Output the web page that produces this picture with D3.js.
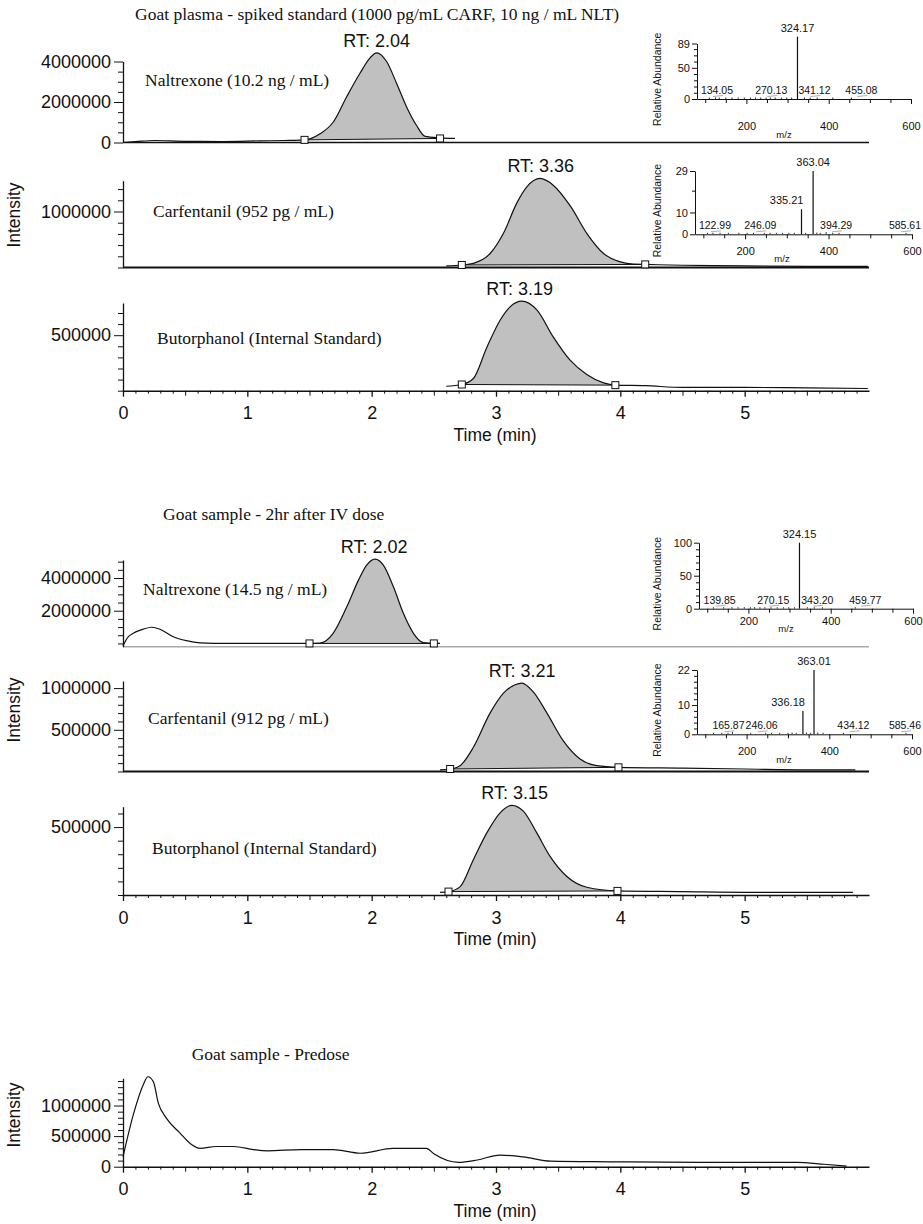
<!DOCTYPE html>
<html><head><meta charset="utf-8">
<script src="https://cdn.jsdelivr.net/npm/d3@7"></script>
<style>
body{margin:0;background:#fff;}
svg{display:block;background:#fff;}
</style></head><body>
<svg id="c" width="923" height="1224"></svg>
<script>
// ================= DATA =================
const groupTitles = [
  "Goat plasma - spiked standard (1000 pg/mL CARF, 10 ng / mL NLT)",
  "Goat sample - 2hr after IV dose",
  "Goat sample - Predose"
];
const compoundNames = [
  "Naltrexone (10.2 ng / mL)", "Carfentanil (952 pg / mL)", "Butorphanol (Internal Standard)",
  "Naltrexone (14.5 ng / mL)", "Carfentanil (912 pg / mL)", "Butorphanol (Internal Standard)"
];
const timeTicks = [0, 1, 2, 3, 4, 5];
const xAxisTitle = "Time (min)";
const yAxisTitle = "Intensity";

// retention times
const rtValues = [2.04, 3.36, 3.19, 2.02, 3.21, 3.15];

// chromatogram traces [time (min), intensity]
const nal1Trace = [[0,0.0],[0.1,0.04e6],[0.25,0.1e6],[0.5,0.06e6],[0.8,0.05e6],[1.1,0.08e6],[1.3,0.1e6],[1.46,0.13e6],
  [1.585,0.43e6],[1.69,1.0e6],[1.8,2.27e6],[1.907,3.43e6],[1.987,4.18e6],[2.04,4.43e6],[2.12,4.0e6],[2.2,2.93e6],
  [2.28,1.77e6],[2.36,0.85e6],[2.43,0.3e6],[2.55,0.23e6],[2.67,0.2e6]];
const nal1Markers = [[1.46,0.13e6],[2.55,0.2e6]];

const carf1Trace = [[2.6,0.03e6],[2.725,0.045e6],[2.818,0.075e6],[2.953,0.25e6],[3.06,0.61e6],[3.167,1.15e6],[3.248,1.44e6],
  [3.355,1.59e6],[3.46,1.47e6],[3.6,1.09e6],[3.73,0.61e6],[3.865,0.25e6],[4.0,0.1e6],[4.105,0.06e6],[4.2,0.055e6],
  [4.5,0.04e6],[5.0,0.03e6],[5.5,0.02e6],[5.99,0.02e6]];
const carf1Markers = [[2.725,0.045e6],[4.2,0.055e6]];

const but1Trace = [[2.6,0.04e6],[2.725,0.056e6],[2.818,0.11e6],[2.926,0.39e6],[3.033,0.635e6],[3.113,0.755e6],[3.207,0.806e6],
  [3.33,0.725e6],[3.46,0.485e6],[3.596,0.275e6],[3.73,0.146e6],[3.865,0.07e6],[3.96,0.05e6],[4.2,0.045e6],[4.5,0.03e6],
  [5.0,0.03e6],[5.5,0.025e6],[5.99,0.02e6]];
const but1Markers = [[2.725,0.056e6],[3.96,0.05e6]];

const nal2Trace = [[0,-0.15e6],[0.043,0.41e6],[0.083,0.62e6],[0.163,0.87e6],[0.23,0.99e6],[0.298,0.87e6],[0.405,0.41e6],
  [0.51,0.17e6],[0.62,0.03e6],[0.73,0.0],[1.0,0.0],[1.5,0.0],[1.585,0.02e6],[1.69,0.62e6],[1.8,2.24e6],[1.894,3.87e6],
  [1.96,4.79e6],[2.027,5.15e6],[2.094,4.79e6],[2.175,3.46e6],[2.255,1.84e6],[2.336,0.62e6],[2.416,0.05e6],[2.5,0.0],[2.55,0.0]];
const nal2Markers = [[1.5,0.0],[2.5,0.0]];

const carf2Trace = [[2.55,0.02e6],[2.631,0.03e6],[2.711,0.07e6],[2.818,0.29e6],[2.952,0.70e6],[3.06,0.94e6],[3.154,1.04e6],
  [3.207,1.06e6],[3.30,0.955e6],[3.41,0.70e6],[3.54,0.37e6],[3.676,0.15e6],[3.81,0.07e6],[3.985,0.05e6],[4.5,0.04e6],
  [5.0,0.03e6],[5.5,0.02e6],[5.89,0.02e6]];
const carf2Markers = [[2.631,0.03e6],[3.985,0.05e6]];

const but2Trace = [[2.55,0.02e6],[2.618,0.025e6],[2.71,0.06e6],[2.818,0.26e6],[2.926,0.457e6],[3.033,0.605e6],[3.127,0.66e6],
  [3.22,0.617e6],[3.328,0.457e6],[3.435,0.284e6],[3.57,0.136e6],[3.73,0.057e6],[3.977,0.03e6],[4.5,0.025e6],[5.0,0.02e6],
  [5.5,0.02e6],[5.87,0.02e6]];
const but2Markers = [[2.618,0.025e6],[3.977,0.03e6]];

const predoseTrace = [[0,0.16e6],[0.083,0.85e6],[0.163,1.34e6],[0.2,1.47e6],[0.244,1.39e6],[0.284,1.04e6],[0.35,0.79e6],
  [0.459,0.55e6],[0.54,0.38e6],[0.62,0.30e6],[0.75,0.33e6],[0.89,0.33e6],[1.05,0.28e6],[1.16,0.26e6],[1.43,0.28e6],
  [1.69,0.28e6],[1.91,0.22e6],[2.17,0.30e6],[2.44,0.30e6],[2.5,0.21e6],[2.70,0.07e6],[2.85,0.11e6],[3.03,0.19e6],
  [3.22,0.16e6],[3.44,0.09e6],[3.92,0.08e6],[4.64,0.07e6],[5.42,0.07e6],[5.64,0.04e6],[5.82,0.01e6]];

// y tick labels
const nal1Ticks = [0, 2000000, 4000000];
const carf1Ticks = [1000000];
const but1Ticks = [500000];
const nal2Ticks = [2000000, 4000000];
const carf2Ticks = [500000, 1000000];
const but2Ticks = [500000];
const predoseTicks = [0, 500000, 1000000];

// mass spectra insets [m/z, relative abundance]
const specAMain = [[324.17, 100]];
const specAMinor = [[134.05,1.5],[270.13,1.8],[341.12,1.2],[455.08,1.0]];
const specANoise = [[110,0.8],[125,1.0],[150,0.7],[165,1.2],[180,0.9],[195,1.1],[210,1.4],[222,1.0],[235,1.6],[248,1.2],[258,1.5],[285,1.3],[298,1.0],[310,1.4],[355,0.8],[372,0.6],[410,0.5]];
const specAYTicks = [0, 50, 89];

const specBMain = [[363.04, 29],[335.21, 11.5]];
const specBMinor = [[122.99,0.6],[246.09,0.6],[394.29,1.0],[585.61,0.3]];
const specBNoise = [[110,0.4],[140,0.5],[160,0.4],[185,0.5],[205,0.6],[220,0.5],[260,0.6],[275,0.5],[290,0.6],[305,0.5],[318,0.7],[345,0.6],[372,0.8],[380,0.6],[410,0.5],[425,0.4]];
const specBYTicks = [0, 10, 29];

const specCMain = [[324.15, 100]];
const specCMinor = [[139.85,1.0],[270.15,1.5],[343.20,1.2],[459.77,0.8]];
const specCNoise = [[115,0.6],[160,0.8],[175,1.0],[190,1.2],[205,1.0],[215,1.5],[228,1.2],[240,1.4],[255,1.6],[285,1.2],[298,1.0],[312,1.3],[360,0.6],[380,0.5]];
const specCYTicks = [0, 50, 100];

const specDMain = [[363.01, 22],[336.18, 8]];
const specDMinor = [[165.87,0.8],[246.06,0.4],[434.12,0.5],[585.46,0.3]];
const specDNoise = [[120,0.3],[140,0.4],[155,0.3],[210,0.4],[260,0.3],[280,0.4],[300,0.5],[310,0.6],[320,0.5],[345,0.6],[355,0.5],[372,0.6],[385,0.4]];
const specDYTicks = [0, 10, 22];

const mzTicks = [200, 400, 600];

// ================= DRAWING =================
const SANS = "'Liberation Sans', Arial, Helvetica, sans-serif";
const SERIF = "'Liberation Serif', 'Times New Roman', serif";
const svg = d3.select('#c');
const x = d3.scaleLinear().domain([0, 6]).range([123, 869]);
const fmt = d3.format("d");

function styleAxis(g, size, fam) {
  g.selectAll("text").attr("font-size", size).attr("font-family", fam || SANS).attr("fill", "#111");
  g.selectAll("line").attr("stroke", "#111");
  g.selectAll("path").attr("stroke", "#111");
}

const panels = [
  {trace:nal1Trace, markers:nal1Markers, rt:rtValues[0], name:compoundNames[0], dom:[0,4.0e6], top:61.5, bottom:142.5, ticks:nal1Ticks, minor:5e5, lx:145, ly:86, base:'#111', bw:1.3},
  {trace:carf1Trace, markers:carf1Markers, rt:rtValues[1], name:compoundNames[1], dom:[0,1.55e6], top:180.7, bottom:267.5, ticks:carf1Ticks, minor:2e5, lx:153, ly:217, base:'#111', bw:1.8},
  {trace:but1Trace, markers:but1Markers, rt:rtValues[2], name:compoundNames[2], dom:[0,0.79e6], top:303, bottom:390.7, ticks:but1Ticks, minor:1e5, lx:157, ly:344, xaxis:true},
  {trace:nal2Trace, markers:nal2Markers, rt:rtValues[3], name:compoundNames[3], dom:[-0.2e6,5.1e6], top:560, bottom:646.7, ticks:nal2Ticks, minor:5e5, lx:143, ly:595, base:'#aaa', bw:1.5},
  {trace:carf2Trace, markers:carf2Markers, rt:rtValues[4], name:compoundNames[4], dom:[0,1.085e6], top:681, bottom:771.5, ticks:carf2Ticks, minor:1e5, lx:148, ly:724, base:'#111', bw:2.2},
  {trace:but2Trace, markers:but2Markers, rt:rtValues[5], name:compoundNames[5], dom:[0,0.65e6], top:806.7, bottom:895, ticks:but2Ticks, minor:1e5, lx:152, ly:854, xaxis:true},
  {trace:predoseTrace, dom:[0,1.445e6], top:1078.3, bottom:1166.7, ticks:predoseTicks, minor:1e5, xaxis:true}
];

panels.forEach(p => {
  const y = d3.scaleLinear().domain(p.dom).range([p.bottom, p.top]);
  const g = svg.append("g");
  const line = d3.line().x(d => x(d[0])).y(d => y(d[1])).curve(d3.curveMonotoneX);

  if (p.xaxis) {
    const minorVals = d3.range(0, 61).map(i => i / 10).filter(v => Math.abs(v - Math.round(v)) > 1e-6);
    const halfVals = minorVals.filter(v => Math.abs(v * 2 - Math.round(v * 2)) < 1e-6);
    const smallVals = minorVals.filter(v => !halfVals.includes(v));
    const ga = g.append("g").attr("transform", `translate(0,${p.bottom})`)
      .call(d3.axisBottom(x).tickValues(smallVals).tickSize(3).tickSizeOuter(0).tickFormat(""));
    styleAxis(ga, 10);
    ga.select("path").attr("stroke-width", 1.6);
    const gh = g.append("g").attr("transform", `translate(0,${p.bottom})`)
      .call(d3.axisBottom(x).tickValues(halfVals).tickSize(5).tickFormat(""));
    styleAxis(gh, 10); gh.select("path").remove();
    const gm = g.append("g").attr("transform", `translate(0,${p.bottom})`)
      .call(d3.axisBottom(x).tickValues(timeTicks).tickSize(6).tickPadding(10).tickFormat(d3.format("d")));
    styleAxis(gm, 18); gm.select("path").remove();
    gm.selectAll("line").attr("stroke-width", 1.3);
    g.append("text").attr("x", 495).attr("y", p.bottom + 50).attr("text-anchor", "middle")
      .attr("font-family", SANS).attr("font-size", 17.5).attr("fill", "#111").text(xAxisTitle);
  } else {
    g.append("line").attr("x1", x(0)).attr("x2", x(6)).attr("y1", p.bottom).attr("y2", p.bottom)
      .attr("stroke", p.base).attr("stroke-width", p.bw);
  }

  const minorY = d3.range(Math.ceil(p.dom[0] / p.minor), Math.floor(p.dom[1] / p.minor) + 1).map(i => i * p.minor)
    .filter(v => !p.ticks.includes(v));
  const gy1 = g.append("g").attr("transform", `translate(${x(0)},0)`)
    .call(d3.axisLeft(y).tickValues(minorY).tickSize(5).tickSizeOuter(0).tickFormat(""));
  styleAxis(gy1, 10); gy1.select("path").attr("stroke-width", 1.3);
  const gy2 = g.append("g").attr("transform", `translate(${x(0)},0)`)
    .call(d3.axisLeft(y).tickValues(p.ticks).tickSize(9).tickPadding(3).tickFormat(fmt));
  styleAxis(gy2, 18); gy2.select("path").remove();

  if (p.markers) {
    const [m0, m1] = p.markers;
    const baseAt = t => m0[1] + (m1[1] - m0[1]) * (t - m0[0]) / (m1[0] - m0[0]);
    const seg = p.trace.filter(d => d[0] >= m0[0] - 1e-9 && d[0] <= m1[0] + 1e-9);
    const area = d3.area().x(d => x(d[0])).y1(d => y(d[1])).y0(d => y(baseAt(d[0]))).curve(d3.curveMonotoneX);
    g.append("path").datum(seg).attr("d", area).attr("fill", "#c0c0c0");
    g.append("line").attr("x1", x(m0[0])).attr("y1", y(m0[1])).attr("x2", x(m1[0])).attr("y2", y(m1[1]))
      .attr("stroke", "#111").attr("stroke-width", 1);
  }
  g.append("path").datum(p.trace).attr("d", line).attr("fill", "none").attr("stroke", "#111").attr("stroke-width", 1.2);
  if (p.markers) {
    g.selectAll(".mk").data(p.markers).enter().append("rect")
      .attr("x", d => x(d[0]) - 3.5).attr("y", d => y(d[1]) - 3.5).attr("width", 7).attr("height", 7)
      .attr("fill", "#fff").attr("stroke", "#111").attr("stroke-width", 1);
    const apex = d3.max(p.trace, d => d[1]);
    g.append("text").attr("x", x(p.rt)).attr("y", y(apex) - 6).attr("text-anchor", "middle")
      .attr("font-family", SANS).attr("font-size", 18).attr("fill", "#111").text("RT: " + p.rt.toFixed(2));
  }
  if (p.name) {
    g.append("text").attr("x", p.lx).attr("y", p.ly).attr("font-family", SERIF).attr("font-size", 17.5)
      .attr("fill", "#111").text(p.name);
  }
});

// titles
[[135, 20], [163, 520], [191.7, 1060]].forEach((pos, i) => {
  svg.append("text").attr("x", pos[0]).attr("y", pos[1]).attr("font-family", SERIF).attr("font-size", 17.5)
    .attr("fill", "#111").text(groupTitles[i]);
});
[215, 710, 1115].forEach(cy => {
  svg.append("text").attr("transform", `translate(20,${cy}) rotate(-90)`).attr("text-anchor", "middle")
    .attr("font-family", SANS).attr("font-size", 17.5).attr("fill", "#111").text(yAxisTitle);
});

// insets
const insets = [
  {main:specAMain, minor:specAMinor, noise:specANoise, yTicks:specAYTicks, yMinor:10, x0:697, x1:911, y0:99, yTop:43.5, xlab:31, mz:39},
  {main:specBMain, minor:specBMinor, noise:specBNoise, yTicks:specBYTicks, yMinor:10, x0:695, x1:912, y0:234.3, yTop:171, xlab:21, mz:28},
  {main:specCMain, minor:specCMinor, noise:specCNoise, yTicks:specCYTicks, yMinor:10, x0:699, x1:913, y0:608.7, yTop:542.7, xlab:17, mz:23},
  {main:specDMain, minor:specDMinor, noise:specDNoise, yTicks:specDYTicks, yMinor:2, x0:697, x1:912, y0:734.3, yTop:670, xlab:21, mz:29}
];
insets.forEach(s => {
  const g = svg.append("g");
  const yMax = d3.max(s.yTicks);
  const mx = d3.scaleLinear().domain([80, 600]).range([s.x0, s.x1]);
  const my = d3.scaleLinear().domain([0, yMax]).range([s.y0, s.yTop]);
  const minorMz = d3.range(100, 601, 50).filter(v => !mzTicks.includes(v));
  const ax1 = g.append("g").attr("transform", `translate(0,${s.y0})`)
    .call(d3.axisBottom(mx).tickValues(minorMz).tickSize(4).tickSizeOuter(0).tickFormat(""));
  styleAxis(ax1, 10);
  const ax2 = g.append("g").attr("transform", `translate(0,${s.y0})`)
    .call(d3.axisBottom(mx).tickValues(mzTicks).tickSize(5).tickPadding(s.xlab - 13).tickFormat(fmt));
  styleAxis(ax2, 11); ax2.select("path").remove();
  const minorAb = d3.range(0, yMax, s.yMinor).filter(v => !s.yTicks.includes(v));
  const ay1 = g.append("g").attr("transform", `translate(${s.x0},0)`)
    .call(d3.axisLeft(my).tickValues(minorAb).tickSize(3).tickSizeOuter(0).tickFormat(""));
  styleAxis(ay1, 10);
  const ay2 = g.append("g").attr("transform", `translate(${s.x0},0)`)
    .call(d3.axisLeft(my).tickValues(s.yTicks).tickSize(5).tickPadding(2).tickFormat(fmt));
  styleAxis(ay2, 11); ay2.select("path").remove();
  g.selectAll(".nz").data(s.noise.concat(s.minor)).enter().append("line")
    .attr("x1", d => mx(d[0])).attr("x2", d => mx(d[0])).attr("y1", s.y0).attr("y2", d => Math.min(my(d[1]), s.y0 - 1.5))
    .attr("stroke", "#333").attr("stroke-width", 1);
  g.selectAll(".pk").data(s.main).enter().append("line")
    .attr("x1", d => mx(d[0])).attr("x2", d => mx(d[0])).attr("y1", s.y0).attr("y2", d => my(d[1]))
    .attr("stroke", "#111").attr("stroke-width", 1.2);
  g.selectAll(".pl").data(s.main).enter().append("text")
    .attr("x", (d, i) => i === 0 ? mx(d[0]) : mx(d[0]) + 2)
    .attr("y", d => my(d[1]) - 5)
    .attr("text-anchor", (d, i) => i === 0 ? "middle" : "end")
    .attr("font-family", SANS).attr("font-size", 11).attr("fill", "#111").text(d => d[0].toFixed(2));
  // minor labels: shifted away from the base peak, kept inside the inset and page
  const baseMz = s.main[0][0];
  const labX = d => Math.max(Math.min(mx(d[0]) + (d[0] > baseMz ? 10 : -4), 905), s.x0 + 20);
  g.selectAll(".ml").data(s.minor).enter().append("text")
    .attr("x", labX).attr("y", s.y0 - 5).attr("text-anchor", "middle")
    .attr("font-family", SANS).attr("font-size", 10.5).attr("fill", "#111").text(d => d[0].toFixed(2));
  g.selectAll(".ul").data(s.minor).enter().append("line")
    .attr("x1", d => labX(d) - 4).attr("x2", d => labX(d) + 6).attr("y1", s.y0 - 2.5).attr("y2", s.y0 - 3.5)
    .attr("stroke", "#999").attr("stroke-width", 0.8);
  g.append("text").attr("x", s.x0 + 87).attr("y", s.y0 + s.mz).attr("text-anchor", "middle")
    .attr("font-family", SANS).attr("font-size", 9.5).attr("fill", "#111").text("m/z");
  g.append("text").attr("transform", `translate(661,${(s.y0 + s.yTop) / 2 + 8}) rotate(-90)`).attr("text-anchor", "middle")
    .attr("font-family", SANS).attr("font-size", 10.5).attr("fill", "#111").text("Relative Abundance");
});
</script></body></html>
